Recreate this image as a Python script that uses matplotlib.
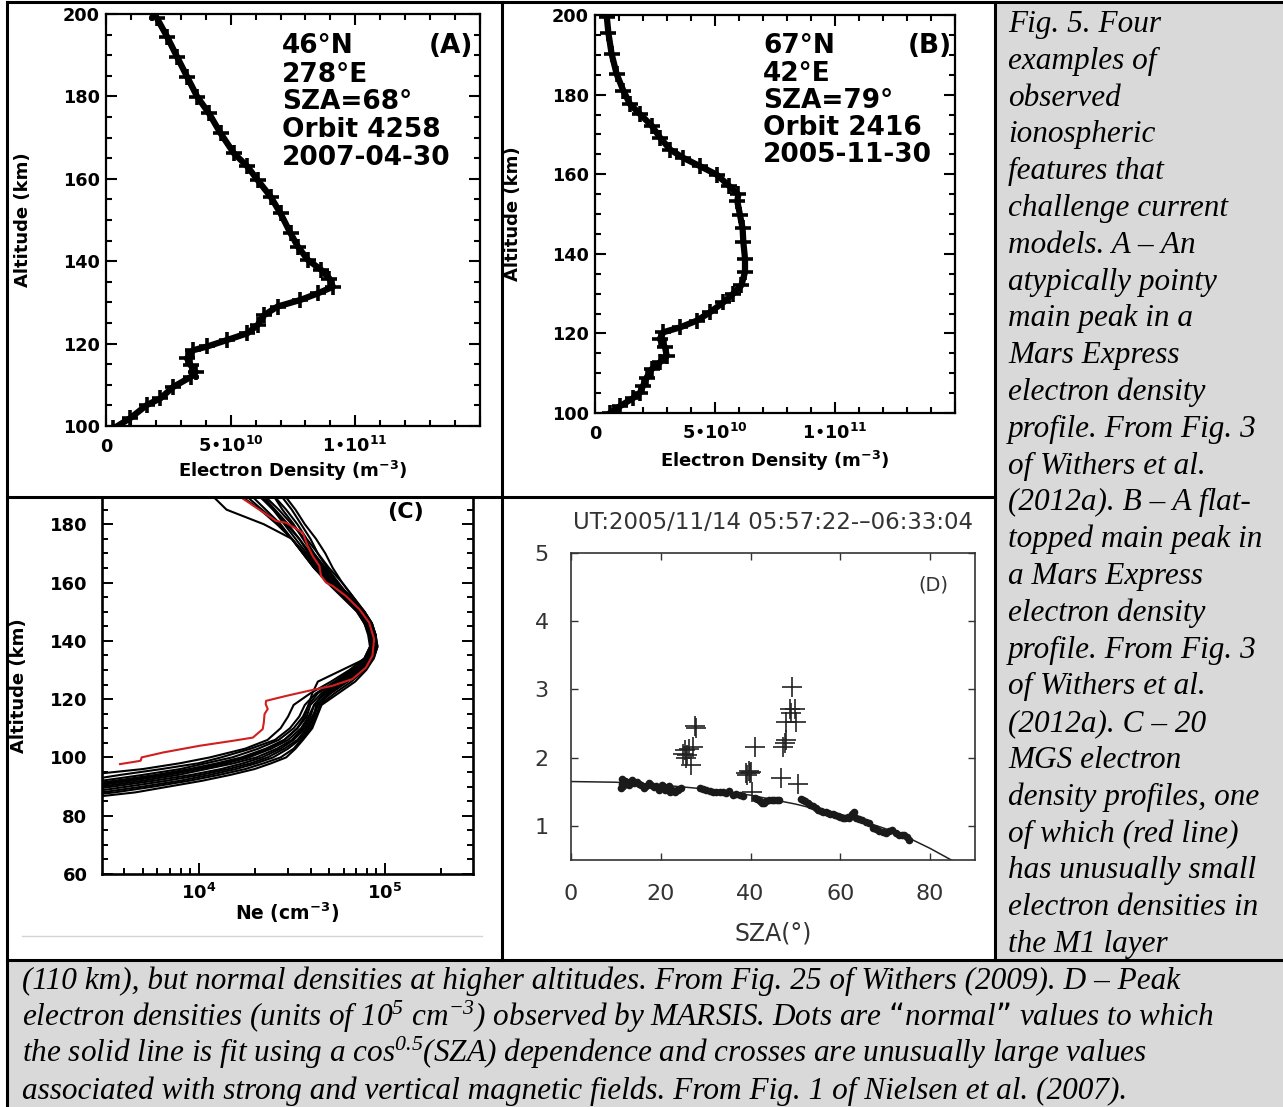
import matplotlib
matplotlib.use("Agg")
import matplotlib.pyplot as plt
import numpy as np
from matplotlib.lines import Line2D
from matplotlib.patches import Rectangle
from matplotlib.ticker import MultipleLocator, LogLocator, NullFormatter

W, H = 1283, 1107

# ---------------- data ----------------
# (A) Mars Express profile, Ne in units of 1e10 m^-3
A_ALT = [99.4, 101.9, 105.1, 106.7, 109.5, 111.9, 113.1, 114.7, 116.4, 118.4, 119.3, 120.9,
         122.5, 124.5, 126.9, 129.0, 130.6, 132.2, 133.8, 135.8, 137.9, 140.3, 143.5, 146.8,
         151.6, 155.7, 159.7, 163.0, 166.2, 171.0, 175.9, 179.9, 184.8, 189.6, 194.5, 199.0, 200.2]
A_NE = [0.3, 0.97, 1.64, 2.18, 2.7, 3.4, 3.6, 3.4, 3.25, 3.5, 4.06, 4.87,
        5.67, 6.08, 6.34, 6.88, 7.8, 8.5, 9.1, 8.96, 8.63, 8.1, 7.7, 7.4,
        7.0, 6.6, 6.08, 5.67, 5.13, 4.6, 4.13, 3.66, 3.25, 2.85, 2.45, 2.04, 1.84]

# (B) Mars Express profile, Ne in units of 1e10 m^-3
B_ALT = [100.0, 101.7, 103.8, 105.1, 106.8, 108.9, 111.0, 112.7, 114.3, 116.5, 118.6, 120.3,
         121.5, 123.2, 125.3, 127.8, 130.0, 132.1, 135.4, 138.8, 143.0, 146.4, 149.8, 153.2,
         154.9, 157.0, 159.9, 162.0, 164.1, 166.2, 169.2, 172.2, 175.1, 177.6, 181.0, 185.2,
         190.3, 195.4, 199.6]
B_NE = [0.63, 1.04, 1.6, 1.875, 2.0, 2.15, 2.36, 2.7, 2.99, 2.92, 2.7, 2.85,
        3.54, 4.24, 4.79, 5.35, 5.76, 6.1, 6.25, 6.25, 6.18, 6.15, 6.04, 5.93,
        5.97, 5.6, 5.07, 4.38, 3.68, 3.13, 2.71, 2.36, 1.875, 1.46, 1.18, 0.9,
        0.69, 0.56, 0.49]

# (C) MGS profiles, log10(Ne / cm^-3) on a common altitude grid
C_ALT = [86, 88, 90, 92, 94, 96, 98, 100, 103, 106, 110, 114, 118, 122, 126, 130, 134, 138,
         142, 146, 150, 155, 160, 165, 170, 175, 180, 185, 190]
C_LOG_NE = [
    [3.38, 3.66, 3.84, 4.02, 4.17, 4.30, 4.39, 4.47, 4.52, 4.56, 4.61, 4.635, 4.66, 4.75, 4.84,
     4.90, 4.94, 4.96, 4.95, 4.93, 4.89, 4.83, 4.77, 4.72, 4.68, 4.63, 4.57, 4.52, 4.46],
    [3.25, 3.55, 3.76, 3.95, 4.11, 4.25, 4.35, 4.44, 4.51, 4.55, 4.60, 4.63, 4.65, 4.73, 4.82,
     4.89, 4.94, 4.96, 4.95, 4.92, 4.88, 4.81, 4.75, 4.69, 4.64, 4.60, 4.55, 4.50, 4.44],
    [3.15, 3.48, 3.70, 3.90, 4.06, 4.20, 4.31, 4.40, 4.48, 4.54, 4.59, 4.62, 4.64, 4.71, 4.80,
     4.88, 4.93, 4.95, 4.95, 4.93, 4.89, 4.82, 4.74, 4.67, 4.61, 4.56, 4.51, 4.45, 4.40],
    [3.05, 3.40, 3.62, 3.83, 4.01, 4.16, 4.28, 4.37, 4.46, 4.53, 4.58, 4.62, 4.63, 4.70, 4.79,
     4.87, 4.93, 4.95, 4.94, 4.91, 4.87, 4.80, 4.73, 4.66, 4.60, 4.54, 4.47, 4.40, 4.33],
    [3.00, 3.30, 3.54, 3.76, 3.96, 4.12, 4.24, 4.34, 4.44, 4.51, 4.57, 4.61, 4.64, 4.69, 4.78,
     4.86, 4.92, 4.94, 4.94, 4.92, 4.88, 4.81, 4.74, 4.68, 4.62, 4.57, 4.50, 4.43, 4.35],
    [3.00, 3.22, 3.48, 3.70, 3.89, 4.04, 4.19, 4.31, 4.42, 4.50, 4.56, 4.60, 4.62, 4.68, 4.77,
     4.85, 4.91, 4.94, 4.93, 4.90, 4.86, 4.79, 4.71, 4.64, 4.58, 4.52, 4.46, 4.40, 4.32],
    [3.00, 3.15, 3.42, 3.64, 3.84, 4.00, 4.15, 4.27, 4.39, 4.48, 4.55, 4.59, 4.62, 4.67, 4.76,
     4.85, 4.91, 4.95, 4.95, 4.93, 4.89, 4.83, 4.77, 4.70, 4.64, 4.58, 4.53, 4.47, 4.40],
    [3.00, 3.08, 3.32, 3.55, 3.77, 3.95, 4.10, 4.23, 4.36, 4.46, 4.53, 4.58, 4.60, 4.66, 4.75,
     4.84, 4.90, 4.93, 4.92, 4.89, 4.85, 4.77, 4.69, 4.62, 4.56, 4.50, 4.44, 4.36, 4.28],
    [3.00, 3.02, 3.25, 3.48, 3.70, 3.90, 4.04, 4.18, 4.32, 4.43, 4.51, 4.56, 4.59, 4.64, 4.74,
     4.83, 4.90, 4.93, 4.93, 4.91, 4.87, 4.80, 4.72, 4.65, 4.59, 4.54, 4.48, 4.41, 4.34],
    [3.00, 3.00, 3.15, 3.38, 3.58, 3.80, 4.00, 4.12, 4.28, 4.41, 4.49, 4.54, 4.57, 4.63, 4.73,
     4.82, 4.89, 4.92, 4.92, 4.89, 4.85, 4.78, 4.70, 4.62, 4.56, 4.50, 4.43, 4.34, 4.25],
    [3.00, 3.00, 3.10, 3.25, 3.40, 3.70, 3.90, 4.06, 4.25, 4.37, 4.44, 4.48, 4.51, 4.60, 4.71,
     4.81, 4.89, 4.92, 4.91, 4.89, 4.86, 4.79, 4.70, 4.62, 4.56, 4.50, 4.42, 4.33, 4.22],
    [3.00, 3.10, 3.38, 3.60, 3.80, 3.98, 4.12, 4.25, 4.37, 4.46, 4.53, 4.57, 4.59, 4.61, 4.64,
     4.77, 4.90, 4.94, 4.93, 4.90, 4.86, 4.79, 4.71, 4.63, 4.57, 4.50, 4.35, 4.15, 4.07],
]
RED_ALT = [97.7, 98.8, 99.0, 100.0, 101.7, 104.0, 105.7, 106.8, 109.7, 112.0, 114.9, 116.6,
           118.3, 119.4, 121.1, 122.9, 124.6, 126.9, 130.8, 134.9, 140.6, 146.3, 150.9, 155.4,
           158.8, 160.0, 162.3, 165.7, 169.1, 172.6, 177.1, 180.5, 181.1, 183.4, 185.7, 188.0, 189.5]
RED_LOG_NE = [3.578, 3.685, 3.690, 3.694, 3.81, 4.006, 4.184, 4.291, 4.344, 4.35, 4.354, 4.371,
              4.36, 4.362, 4.47, 4.594, 4.72, 4.826, 4.898, 4.933, 4.942, 4.915, 4.862, 4.79,
              4.72, 4.684, 4.657, 4.648, 4.612, 4.585, 4.559, 4.47, 4.416, 4.363, 4.309, 4.256, 4.22]

# (D) MARSIS peak densities (1e5 cm^-3)
DOT_SZA = [11.2, 11.3, 11.4, 11.6, 12.0, 12.4, 12.9, 13.5, 14.0, 14.6, 15.2, 15.7, 16.3, 16.8,
           17.4, 17.9, 18.5, 19.0, 19.5, 19.8, 20.2, 20.5, 21.0, 21.3, 21.8, 22.0, 22.6, 23.1,
           23.6, 23.9, 24.6, 28.7, 29.4, 30.1, 30.9, 31.6, 32.4, 33.1, 33.9, 34.6, 35.3, 36.1,
           36.8, 37.6, 38.3, 41.0, 41.5, 42.0, 42.6, 43.1, 43.5, 44.2, 44.8, 45.3, 45.8, 46.4,
           51.3, 51.6, 52.2, 52.7, 53.3, 53.9, 54.5, 55.0, 55.6, 56.1, 56.7, 57.2, 57.8, 58.3,
           58.9, 59.4, 60.0, 60.5, 61.1, 61.6, 62.0, 62.7, 63.1, 63.5, 64.2, 64.9, 65.7, 66.4,
           67.2, 67.9, 68.7, 69.4, 70.2, 70.9, 71.6, 72.4, 73.1, 73.7, 74.2, 74.8, 75.3]
DOT_NE = [1.55, 1.68, 1.62, 1.58, 1.66, 1.65, 1.60, 1.67, 1.63, 1.65, 1.62, 1.60, 1.56, 1.58,
          1.63, 1.60, 1.57, 1.58, 1.52, 1.55, 1.60, 1.58, 1.52, 1.55, 1.58, 1.50, 1.53, 1.50,
          1.52, 1.53, 1.55, 1.55, 1.54, 1.53, 1.51, 1.50, 1.50, 1.50, 1.49, 1.48, 1.51, 1.45,
          1.47, 1.45, 1.44, 1.41, 1.39, 1.36, 1.34, 1.34, 1.36, 1.38, 1.38, 1.38, 1.38, 1.38,
          1.39, 1.38, 1.36, 1.34, 1.31, 1.29, 1.26, 1.24, 1.22, 1.21, 1.20, 1.19, 1.17, 1.18,
          1.16, 1.14, 1.13, 1.12, 1.12, 1.13, 1.11, 1.17, 1.21, 1.12, 1.10, 1.08, 1.06, 1.04,
          0.97, 0.95, 0.92, 0.91, 0.89, 0.92, 0.94, 0.90, 0.87, 0.86, 0.87, 0.83, 0.79]
CROSS_SZA = [46.8, 47.3, 47.6, 47.9, 47.9, 48.7, 49.0, 49.3, 49.8, 50.1, 50.5, 41.0, 39.0, 39.3,
             39.6, 39.9, 40.2, 40.4, 27.8, 27.6, 27.2, 25.3, 25.0, 25.7, 25.9, 26.8, 26.2]
CROSS_NE = [1.70, 2.16, 2.22, 2.26, 2.53, 2.72, 2.65, 3.04, 2.72, 2.53, 1.61, 2.15, 1.78, 1.75,
            1.80, 1.77, 1.79, 1.49, 2.43, 2.46, 2.15, 2.11, 2.06, 1.99, 2.04, 1.89, 2.12]
FIT_SZA = [0, 10, 20, 30, 40, 50, 55, 60, 65, 70, 75, 80, 85]
FIT_NE = [1.65, 1.64, 1.60, 1.54, 1.45, 1.32, 1.24, 1.17, 1.07, 0.96, 0.83, 0.67, 0.49]

A_INFO = ["46°N", "278°E", "SZA=68°", "Orbit 4258", "2007-04-30"]
B_INFO = ["67°N", "42°E", "SZA=79°", "Orbit 2416", "2005-11-30"]

CAPTION_RIGHT = [
    "Fig. 5. Four", "examples of", "observed", "ionospheric", "features that",
    "challenge current", "models. A – An", "atypically pointy", "main peak in a",
    "Mars Express", "electron density", "profile. From Fig. 3", "of Withers et al.",
    "(2012a). B – A flat-", "topped main peak in", "a Mars Express", "electron density",
    "profile. From Fig. 3", "of Withers et al.", "(2012a). C – 20", "MGS electron",
    "density profiles, one", "of which (red line)", "has unusually small",
    "electron densities in", "the M1 layer",
]
CAPTION_BOTTOM = [
    "(110 km), but normal densities at higher altitudes. From Fig. 25 of Withers (2009). D – Peak",
    "electron densities (units of 10$^5$ cm$^{-3}$) observed by MARSIS. Dots are “normal” values to which",
    "the solid line is fit using a cos$^{0.5}$(SZA) dependence and crosses are unusually large values",
    "associated with strong and vertical magnetic fields. From Fig. 1 of Nielsen et al. (2007).",
]

plt.rcParams["font.family"] = ["DejaVu Sans"]
plt.rcParams["mathtext.default"] = "regular"


def px_rect(left, top, right, bottom):
    return [left / W, 1 - bottom / H, (right - left) / W, (bottom - top) / H]


def fx(x):
    return x / W


def fy(y):
    return 1 - y / H


fig = plt.figure(figsize=(W / 100, H / 100), dpi=100, facecolor="white")

# ── table cells ─────────────────────────────────────────────────────────
gray = "#d9d9d9"
fig.add_artist(Rectangle((fx(995), fy(960)), fx(1283) - fx(995), fy(2) - fy(960),
                         transform=fig.transFigure, color=gray, zorder=0))
fig.add_artist(Rectangle((fx(7), fy(1107)), fx(1283) - fx(7), fy(960) - fy(1107),
                         transform=fig.transFigure, color=gray, zorder=0))
borders = [((7, 1283), (2, 2)), ((7, 7), (2, 1107)), ((502, 502), (2, 960)),
           ((995, 995), (2, 960)), ((7, 995), (497, 497)), ((7, 1283), (960, 960))]
for (x0, x1), (y0, y1) in borders:
    fig.add_artist(Line2D([fx(x0), fx(x1)], [fy(y0), fy(y1)], transform=fig.transFigure,
                          color="black", lw=2.2, zorder=10))
fig.add_artist(Line2D([fx(22), fx(482)], [fy(936), fy(936)], transform=fig.transFigure,
                      color="#d4d4d4", lw=1, zorder=5))


def bold_ticks(ax):
    for lab in ax.get_xticklabels() + ax.get_yticklabels():
        lab.set_fontweight("bold")


# ── (A) and (B) MEX profiles ────────────────────────────────────────────
def mex_panel(rect, ne, alt, info, tag, info_x, info_y, tag_x):
    ax = fig.add_axes(rect)
    ax.plot(np.array(ne) * 1e10, alt, color="black", lw=4.5, marker="+", ms=12, mew=2.6)
    ax.set_xlim(0, 1.5e11)
    ax.set_ylim(100, 200)
    ax.set_xticks([0, 5e10, 1e11, 1.5e11])
    ax.set_xticklabels(["0", "5•10$^{10}$", "1•10$^{11}$", ""])
    ax.xaxis.set_minor_locator(MultipleLocator(1e10))
    ax.set_yticks(range(100, 201, 20))
    ax.yaxis.set_minor_locator(MultipleLocator(5))
    ax.tick_params(which="both", direction="in", top=True, right=True, width=1.5, labelsize=12.7)
    ax.tick_params(which="major", length=8)
    ax.tick_params(which="minor", length=4)
    ax.tick_params(axis="x", pad=19)
    ax.tick_params(axis="y", pad=4.5)
    for lab in ax.get_xticklabels():
        lab.set_verticalalignment("baseline")
    bold_ticks(ax)
    for s in ax.spines.values():
        s.set_linewidth(1.6)
    ax.set_ylabel("Altitude (km)", fontsize=13, fontweight="bold")
    ax.set_xlabel("Electron Density (m$^{-3}$)", fontsize=13, fontweight="bold")
    for i, line in enumerate(info):
        ax.text(info_x, info_y[i], line, transform=ax.transAxes, fontsize=19,
                fontweight="bold", ha="left", va="baseline")
    ax.text(tag_x, info_y[0], tag, transform=ax.transAxes, fontsize=19,
            fontweight="bold", ha="right", va="baseline")
    return ax


axA = mex_panel(px_rect(106, 14, 480, 426), A_NE, A_ALT, A_INFO, "(A)", 0.4706,
                [0.905, 0.836, 0.770, 0.702, 0.633], 0.982)
axA.yaxis.set_label_coords(-0.199, 0.5)
axA.xaxis.set_label_coords(0.5, -0.080)

axB = mex_panel(px_rect(595, 15, 955, 413), B_NE, B_ALT, B_INFO, "(B)", 0.4676,
                [0.904, 0.833, 0.766, 0.698, 0.631], 0.991)
axB.yaxis.set_label_coords(-0.2036, 0.5)
axB.xaxis.set_label_coords(0.5, -0.0905)

# ── (C) MGS profiles ────────────────────────────────────────────────────
axC = fig.add_axes(px_rect(102, 498, 473, 874))
for prof in C_LOG_NE:
    axC.plot(10 ** np.array(prof), C_ALT, color="black", lw=1.5)
axC.plot(10 ** np.array(RED_LOG_NE), RED_ALT, color="#d11f1f", lw=1.5)
axC.set_xscale("log")
axC.set_xlim(3.03e3, 2.97e5)
axC.set_ylim(60, 189)
axC.spines["top"].set_visible(False)
for s in ["left", "right", "bottom"]:
    axC.spines[s].set_linewidth(1.9)
axC.set_xticks([1e4, 1e5])
axC.set_xticklabels(["10$^4$", "10$^5$"])
axC.xaxis.set_minor_locator(LogLocator(base=10, subs=np.arange(2, 10)))
axC.xaxis.set_minor_formatter(NullFormatter())
axC.set_yticks(range(60, 181, 20))
axC.yaxis.set_minor_locator(MultipleLocator(5))
axC.tick_params(which="both", direction="in", top=False, right=True, width=1.4, labelsize=13)
axC.tick_params(which="major", length=8)
axC.tick_params(which="minor", length=4)
axC.tick_params(axis="y", pad=10.5)
axC.tick_params(axis="x", pad=6.5)
bold_ticks(axC)
axC.set_ylabel("Altitude (km)", fontsize=13, fontweight="bold")
axC.set_xlabel("Ne (cm$^{-3}$)", fontsize=13.5, fontweight="bold")
axC.yaxis.set_label_coords(-0.1986, 0.5)
axC.xaxis.set_label_coords(0.5, -0.0718)
axC.text(0.817, 0.963, "(C)", transform=axC.transAxes, fontsize=16, fontweight="bold",
         ha="center", va="center")

# ── (D) MARSIS peak densities ───────────────────────────────────────────
dgray = "#333333"
axD = fig.add_axes(px_rect(571, 553, 975, 860))
axD.plot(FIT_SZA, FIT_NE, color="#222222", lw=1.1)
axD.plot(DOT_SZA, DOT_NE, "o", color="#1a1a1a", ms=5.5, mew=0)
axD.plot(CROSS_SZA, CROSS_NE, "+", color="#222222", ms=15, mew=1.2)
axD.set_xlim(0, 90)
axD.set_ylim(0.5, 5)
axD.set_xticks([0, 20, 40, 60, 80])
axD.set_yticks([1, 2, 3, 4, 5])
axD.tick_params(direction="in", top=True, right=True, length=5, width=1.0, color=dgray,
                labelsize=16, labelcolor=dgray)
axD.tick_params(axis="y", pad=16)
axD.tick_params(axis="x", pad=17)
for s in axD.spines.values():
    s.set_linewidth(1.2)
    s.set_color(dgray)
axD.set_xlabel("SZA(°)", fontsize=17, color=dgray)
axD.xaxis.set_label_coords(0.5, -0.20)
axD.text(0.5, 1.098, "UT:2005/11/14 05:57:22-–06:33:04", transform=axD.transAxes,
         fontsize=16.5, color=dgray, ha="center", va="center")
axD.text(0.896, 0.895, "(D)", transform=axD.transAxes, fontsize=14, color=dgray,
         ha="center", va="center")

# ── captions ────────────────────────────────────────────────────────────
serif = dict(family=["Liberation Serif", "DejaVu Serif"], style="italic", va="baseline",
             ha="left", color="black")
for i, line in enumerate(CAPTION_RIGHT):
    fig.text(fx(1008), fy(32 + i * 36.8), line, fontsize=22.5, **serif)
for i, line in enumerate(CAPTION_BOTTOM):
    fig.text(fx(22), fy(989 + i * 36.6), line, fontsize=22.5, **serif)

fig.savefig("out.png", dpi=100)
